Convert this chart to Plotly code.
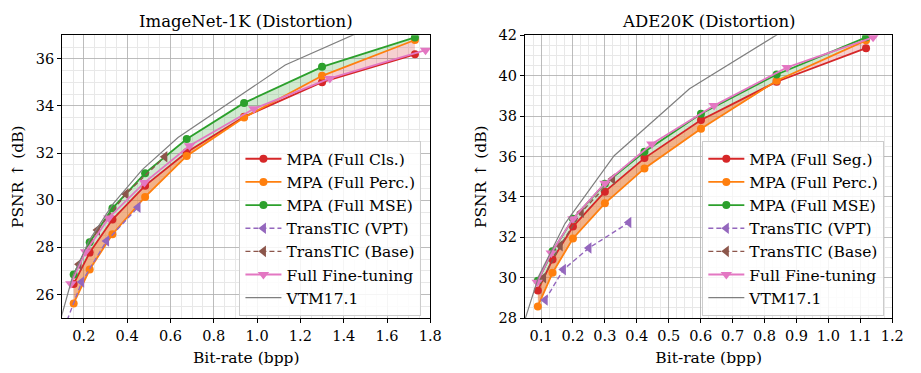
import numpy as np
import plotly.graph_objects as go

# ---------------- data: ImageNet-1K ----------------
in_x_mpa = [0.153, 0.227, 0.332, 0.483, 0.675, 0.94, 1.30, 1.729]
in_cls = [26.45, 27.78, 29.18, 30.62, 32.04, 33.54, 35.01, 36.19]
in_perc = [25.62, 27.06, 28.56, 30.14, 31.88, 33.51, 35.28, 36.80]
in_mse = [26.85, 28.22, 29.66, 31.15, 32.60, 34.13, 35.66, 36.91]
in_vpt_x = [0.11, 0.19, 0.305, 0.45]
in_vpt_y = [24.6, 26.53, 28.27, 29.70]
in_base_x = [0.178, 0.263, 0.395, 0.574]
in_base_y = [27.28, 28.74, 30.27, 31.85]
in_ft_x = [0.14, 0.208, 0.315, 0.48, 0.688, 0.985, 1.336, 1.778]
in_ft_y = [26.46, 27.82, 29.25, 30.75, 32.31, 33.88, 35.17, 36.37]
in_vtm_x = [0.09, 0.147, 0.225, 0.335, 0.47, 0.635, 1.13, 1.75]
in_vtm_y = [24.85, 26.73, 28.30, 29.85, 31.30, 32.66, 35.74, 38.26]

# ---------------- data: ADE20K ----------------
ade_x_mpa = [0.09, 0.136, 0.20, 0.30, 0.424, 0.601, 0.838, 1.118]
ade_seg = [29.37, 30.90, 32.53, 34.26, 35.92, 37.81, 39.70, 41.36]
ade_perc = [28.58, 30.24, 31.94, 33.68, 35.41, 37.37, 39.75, 41.75]
ade_mse = [29.85, 31.31, 32.92, 34.65, 36.23, 38.12, 40.06, 41.90]
ade_vpt_x = [0.113, 0.17, 0.25, 0.375]
ade_vpt_y = [28.90, 30.40, 31.47, 32.73]
ade_base_x = [0.108, 0.16, 0.226, 0.324]
ade_base_y = [30.00, 31.58, 33.24, 34.89]
ade_ft_x = [0.088, 0.132, 0.20, 0.30, 0.447, 0.642, 0.871, 1.14]
ade_ft_y = [29.77, 31.22, 32.92, 34.68, 36.62, 38.52, 40.41, 41.90]
ade_vtm_x = [0.045, 0.093, 0.175, 0.329, 0.565, 0.833, 1.0]
ade_vtm_y = [27.70, 30.08, 32.68, 36.04, 39.35, 42.00, 43.60]

C_RED = "#d62728"
C_ORANGE = "#ff7f0e"
C_GREEN = "#2ca02c"
C_PURPLE = "#9467bd"
C_BROWN = "#8c564b"
C_PINK = "#e377c2"
C_GRAY = "#7f7f7f"

FONT = "DejaVu Serif"

fig = go.Figure()


def band(x, lower, upper, color, xa, ya):
    fig.add_trace(go.Scatter(x=x, y=lower, mode="lines", line=dict(width=0),
                             showlegend=False, hoverinfo="skip", xaxis=xa, yaxis=ya))
    fig.add_trace(go.Scatter(x=x, y=upper, mode="lines", line=dict(width=0),
                             fill="tonexty", fillcolor=color,
                             showlegend=False, hoverinfo="skip", xaxis=xa, yaxis=ya))


def add_panel(xa, ya, leg, x_mpa, cls, perc, mse, cls_name,
              vx, vy, bx, by, fx, fy, tx, ty):
    cls_a = np.array(cls); perc_a = np.array(perc); mse_a = np.array(mse)
    lo = np.minimum(perc_a, cls_a)
    hi = np.maximum(perc_a, cls_a)
    band(x_mpa, lo, cls_a, "rgba(230,115,40,0.55)", xa, ya)
    band(x_mpa, cls_a, hi, "rgba(214,39,40,0.22)", xa, ya)
    band(x_mpa, hi, mse_a, "rgba(44,160,44,0.22)", xa, ya)

    common = dict(xaxis=xa, yaxis=ya, legend=leg)
    fig.add_trace(go.Scatter(x=x_mpa, y=cls, name=cls_name, mode="lines+markers",
                             line=dict(color=C_RED, width=1.8),
                             marker=dict(color=C_RED, size=8, symbol="circle"), **common))
    fig.add_trace(go.Scatter(x=x_mpa, y=perc, name="MPA (Full Perc.)", mode="lines+markers",
                             line=dict(color=C_ORANGE, width=1.8),
                             marker=dict(color=C_ORANGE, size=8, symbol="circle"), **common))
    fig.add_trace(go.Scatter(x=x_mpa, y=mse, name="MPA (Full MSE)", mode="lines+markers",
                             line=dict(color=C_GREEN, width=1.8),
                             marker=dict(color=C_GREEN, size=8, symbol="circle"), **common))
    fig.add_trace(go.Scatter(x=vx, y=vy, name="TransTIC (VPT)", mode="lines+markers",
                             line=dict(color=C_PURPLE, width=1.4, dash="5px,3px"),
                             marker=dict(color=C_PURPLE, size=10, symbol="triangle-left"), **common))
    fig.add_trace(go.Scatter(x=bx, y=by, name="TransTIC (Base)", mode="lines+markers",
                             line=dict(color=C_BROWN, width=1.4, dash="5px,3px"),
                             marker=dict(color=C_BROWN, size=10, symbol="triangle-left"), **common))
    fig.add_trace(go.Scatter(x=fx, y=fy, name="Full Fine-tuning", mode="lines+markers",
                             line=dict(color=C_PINK, width=1.8),
                             marker=dict(color=C_PINK, size=10, symbol="triangle-down"), **common))
    fig.add_trace(go.Scatter(x=tx, y=ty, name="VTM17.1", mode="lines",
                             line=dict(color=C_GRAY, width=1.2), **common))


add_panel("x", "y", "legend", in_x_mpa, in_cls, in_perc, in_mse, "MPA (Full Cls.)",
          in_vpt_x, in_vpt_y, in_base_x, in_base_y, in_ft_x, in_ft_y, in_vtm_x, in_vtm_y)
add_panel("x2", "y2", "legend2", ade_x_mpa, ade_seg, ade_perc, ade_mse, "MPA (Full Seg.)",
          ade_vpt_x, ade_vpt_y, ade_base_x, ade_base_y, ade_ft_x, ade_ft_y, ade_vtm_x, ade_vtm_y)

W, H = 921, 373
y_dom = [1 - 324 / H, 1 - 28.5 / H]

axis_common = dict(
    showline=True, linecolor="black", linewidth=1.2, mirror=True,
    ticks="outside", ticklen=4, tickwidth=1, tickcolor="black",
    showgrid=True, gridcolor="rgba(176,176,176,0.85)", gridwidth=1,
    zeroline=False,
    tickfont=dict(family=FONT, size=14.5, color="black"),
)

title_font = dict(family=FONT, size=15.5)
legend_common = dict(bgcolor="rgba(255,255,255,0.85)", bordercolor="#cccccc", borderwidth=1,
                     font=dict(family=FONT, size=15.5), traceorder="normal",
                     xanchor="right", yanchor="bottom", itemwidth=36)

fig.update_layout(
    width=W, height=H,
    margin=dict(l=0, r=0, t=0, b=0),
    paper_bgcolor="white", plot_bgcolor="white",
    font=dict(family=FONT, size=14, color="black"),
    xaxis=dict(domain=[63 / W, 436 / W], range=[0.1, 1.8], tick0=0, dtick=0.2, tickformat=".1f",
               minor=dict(dtick=0.05, tick0=0, showgrid=True, gridcolor="#e8e8e8", gridwidth=1),
               title=dict(text="Bit-rate (bpp)", font=title_font, standoff=9),
               anchor="y", **axis_common),
    yaxis=dict(domain=y_dom, range=[25, 37], tick0=0, dtick=2,
               minor=dict(dtick=0.5, tick0=0, showgrid=True, gridcolor="#e8e8e8", gridwidth=1),
               title=dict(text="PSNR ↑ (dB)", font=title_font, standoff=8),
               anchor="x", **axis_common),
    xaxis2=dict(domain=[532 / W, 904 / W], range=[0.05, 1.2], tick0=0, dtick=0.1, tickformat=".1f",
                minor=dict(dtick=0.025, tick0=0, showgrid=True, gridcolor="#e8e8e8", gridwidth=1),
                title=dict(text="Bit-rate (bpp)", font=title_font, standoff=9),
                anchor="y2", **axis_common),
    yaxis2=dict(domain=y_dom, range=[28, 42], tick0=0, dtick=2,
                minor=dict(dtick=0.5, tick0=0, showgrid=True, gridcolor="#e8e8e8", gridwidth=1),
                title=dict(text="PSNR ↑ (dB)", font=title_font, standoff=8),
                anchor="x2", **axis_common),
    legend=dict(x=427 / W, y=1 - 322 / H, **legend_common),
    legend2=dict(x=896 / W, y=1 - 322 / H, **legend_common),
    annotations=[
        dict(text="ImageNet-1K (Distortion)", x=(63 + 436) / 2 / W, y=1 - 14 / H,
             xref="paper", yref="paper", showarrow=False, xanchor="center", yanchor="middle",
             font=dict(family=FONT, size=16.5)),
        dict(text="ADE20K (Distortion)", x=(532 + 904) / 2 / W, y=1 - 14 / H,
             xref="paper", yref="paper", showarrow=False, xanchor="center", yanchor="middle",
             font=dict(family=FONT, size=16.5)),
    ],
)

fig.write_html("out.html")
